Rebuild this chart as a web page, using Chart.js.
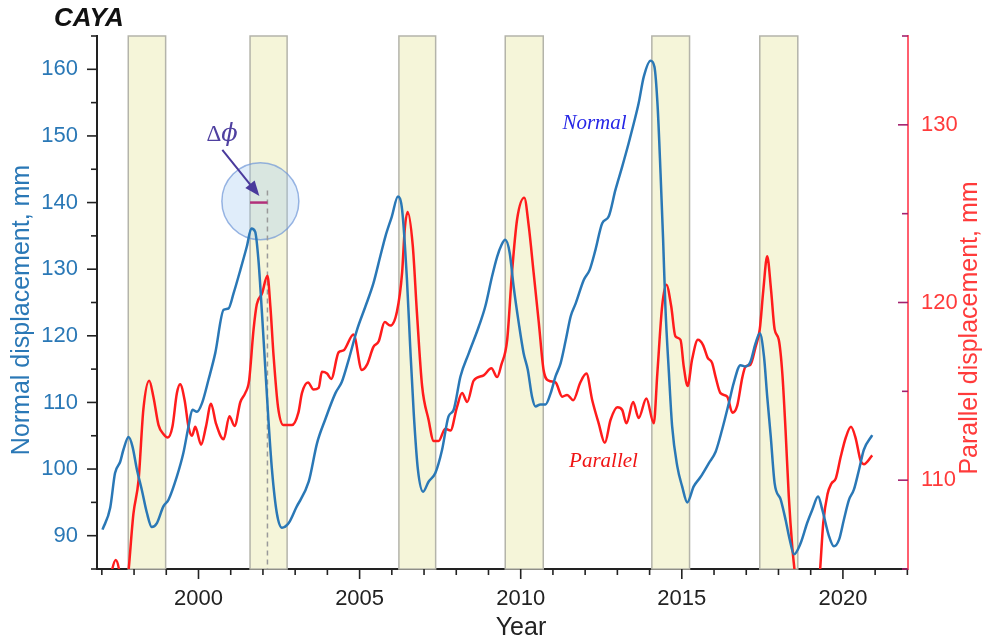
<!DOCTYPE html>
<html>
<head>
<meta charset="utf-8">
<script src="https://cdn.jsdelivr.net/npm/chart.js@4.4.1/dist/chart.umd.min.js"></script>
<style>
  body { margin: 0; background: #fff; }
  canvas { display: block; }
</style>
</head>
<body>
<canvas id="myChart" width="984" height="641"></canvas>
<script>
// Normal displacement (left axis, mm)
const normalYears = [1997.02, 1997.26, 1997.41, 1997.57, 1997.67, 1997.83, 1997.95, 1998.09, 1998.24, 1998.40,
  1998.55, 1998.71, 1998.91, 1999.07, 1999.33, 1999.53, 1999.69, 1999.81, 1999.95, 2000.11,
  2000.31, 2000.52, 2000.78, 2000.93, 2001.09, 2001.30, 2001.50, 2001.64, 2001.76, 2001.86,
  2001.97, 2002.07, 2002.17, 2002.28, 2002.43, 2002.59, 2002.80, 2003.03, 2003.42, 2003.68,
  2003.93, 2004.25, 2004.45, 2004.66, 2004.92, 2005.18, 2005.43, 2005.64, 2005.80, 2006.00,
  2006.19, 2006.32, 2006.47, 2006.57, 2006.68, 2006.81, 2006.97, 2007.14, 2007.35, 2007.56,
  2007.76, 2007.92, 2008.13, 2008.39, 2008.70, 2008.90, 2009.11, 2009.27, 2009.40, 2009.52,
  2009.66, 2009.78, 2009.94, 2010.09, 2010.22, 2010.35, 2010.46, 2010.61, 2010.77, 2010.93,
  2011.08, 2011.24, 2011.40, 2011.55, 2011.71, 2011.96, 2012.14, 2012.32, 2012.53, 2012.73,
  2012.94, 2013.15, 2013.35, 2013.51, 2013.66, 2013.82, 2014.03, 2014.15, 2014.25, 2014.34,
  2014.42, 2014.49, 2014.60, 2014.70, 2014.86, 2015.01, 2015.17, 2015.37, 2015.58, 2015.84,
  2016.05, 2016.25, 2016.46, 2016.61, 2016.82, 2016.98, 2017.13, 2017.29, 2017.42, 2017.55,
  2017.65, 2017.76, 2017.88, 2018.07, 2018.22, 2018.35, 2018.48, 2018.69, 2018.89, 2019.05,
  2019.23, 2019.36, 2019.57, 2019.72, 2019.88, 2020.03, 2020.19, 2020.34, 2020.50, 2020.65,
  2020.91];
const normalValues = [90.9, 94.2, 99.4, 101.1, 102.9, 104.8, 103.4, 99.9, 96.9, 93.4,
  91.3, 91.9, 94.4, 95.4, 98.9, 102.4, 106.4, 108.9, 108.6, 109.9,
  113.4, 117.4, 123.9, 124.1, 126.4, 129.9, 133.4, 136.1, 135.6, 131.4,
  123.4, 115.4, 107.4, 99.9, 93.4, 91.2, 91.9, 94.2, 98.1, 103.9,
  107.4, 111.4, 113.1, 116.4, 120.9, 124.4, 127.9, 131.9, 134.9, 137.9,
  140.9, 138.9, 128.4, 118.4, 108.4, 99.9, 96.6, 98.1, 99.4, 102.9,
  107.9, 108.9, 113.9, 117.4, 121.4, 124.4, 128.9, 131.9, 133.6, 134.4,
  132.4, 127.4, 121.9, 117.4, 114.9, 110.9, 109.4, 109.7, 109.7, 111.4,
  113.9, 115.9, 119.4, 122.9, 124.9, 128.4, 129.9, 132.9, 136.9, 137.9,
  141.9, 145.4, 148.9, 151.9, 154.9, 158.9, 161.3, 160.4, 154.4, 144.4,
  134.4, 124.4, 114.4, 106.4, 100.4, 97.4, 95.0, 97.4, 98.8, 100.9,
  102.6, 105.9, 109.9, 112.9, 115.6, 115.4, 116.1, 118.9, 120.4, 116.9,
  110.9, 104.9, 97.9, 95.4, 92.4, 89.4, 87.2, 88.9, 91.9, 93.9,
  95.9, 93.9, 89.9, 88.4, 89.4, 92.4, 95.4, 96.9, 99.9, 102.9,
  105.1];

// Parallel displacement (right axis, mm)
const parallelYears = [1997.20, 1997.31, 1997.43, 1997.54, 1997.62, 1997.76, 1997.83, 1997.98, 1998.14, 1998.29,
  1998.47, 1998.60, 1998.76, 1998.91, 1999.05, 1999.19, 1999.33, 1999.43, 1999.57, 1999.69,
  1999.80, 1999.90, 2000.08, 2000.23, 2000.39, 2000.54, 2000.78, 2000.96, 2001.12, 2001.30,
  2001.45, 2001.57, 2001.71, 2001.81, 2001.97, 2002.14, 2002.23, 2002.33, 2002.47, 2002.64,
  2002.90, 2003.10, 2003.21, 2003.40, 2003.57, 2003.73, 2003.83, 2003.99, 2004.12, 2004.35,
  2004.50, 2004.81, 2005.07, 2005.23, 2005.43, 2005.59, 2005.78, 2005.95, 2006.16, 2006.32,
  2006.40, 2006.49, 2006.65, 2006.78, 2006.94, 2007.14, 2007.30, 2007.45, 2007.66, 2007.82,
  2008.02, 2008.18, 2008.34, 2008.54, 2008.85, 2009.09, 2009.27, 2009.40, 2009.58, 2009.73,
  2009.89, 2010.11, 2010.25, 2010.40, 2010.56, 2010.71, 2010.87, 2011.08, 2011.29, 2011.44,
  2011.63, 2011.85, 2012.04, 2012.22, 2012.42, 2012.61, 2012.79, 2013.00, 2013.15, 2013.28,
  2013.49, 2013.66, 2013.90, 2014.13, 2014.24, 2014.39, 2014.52, 2014.67, 2014.80, 2014.96,
  2015.06, 2015.18, 2015.32, 2015.50, 2015.66, 2015.80, 2015.94, 2016.05, 2016.20, 2016.41,
  2016.57, 2016.72, 2016.88, 2016.98, 2017.13, 2017.29, 2017.42, 2017.53, 2017.65, 2017.77,
  2017.88, 2018.01, 2018.12, 2018.22, 2018.32, 2018.43, 2018.50, 2018.65, 2019.00, 2019.18,
  2019.29, 2019.39, 2019.52, 2019.64, 2019.78, 2019.93, 2020.09, 2020.25, 2020.39, 2020.55,
  2020.65, 2020.91];
const parallelValues = [103.8, 104.9, 105.5, 104.9, 103.6, 103.6, 104.9, 108.1, 110.0, 114.0,
  115.6, 114.7, 113.1, 112.6, 112.4, 113.0, 114.9, 115.4, 114.5, 113.0,
  112.5, 113.0, 112.0, 113.0, 114.3, 113.2, 112.3, 113.6, 113.05, 114.4,
  114.9, 115.6, 118.5, 119.9, 120.5, 121.5, 119.8, 117.0, 114.1, 113.1,
  113.1, 113.8, 114.9, 115.5, 115.1, 115.2, 116.1, 116.0, 115.7, 117.2,
  117.3, 118.2, 116.2, 116.5, 117.5, 117.8, 118.9, 118.7, 119.5, 121.7,
  124.1, 125.1, 123.2, 119.4, 115.3, 113.4, 112.2, 112.2, 112.9, 112.8,
  114.1, 114.9, 114.4, 115.6, 115.9, 116.3, 115.8, 116.5, 117.9, 121.7,
  124.7, 125.9, 124.3, 121.7, 118.9, 116.2, 115.6, 115.5, 114.7, 114.8,
  114.5, 115.5, 116.0, 114.5, 113.2, 112.1, 113.4, 114.1, 113.95, 113.2,
  114.4, 113.5, 114.6, 113.2, 116.0, 119.8, 121.0, 119.8, 118.1, 117.9,
  116.4, 115.3, 116.8, 117.9, 117.6, 116.9, 116.6, 115.8, 114.9, 114.7,
  113.8, 114.2, 115.8, 116.4, 116.5, 117.5, 118.5, 120.7, 122.6, 120.7,
  118.5, 117.9, 116.0, 112.8, 109.1, 106.2, 104.9, 102.0, 100.5, 102.5,
  104.9, 107.6, 109.2, 109.8, 110.1, 111.3, 112.4, 113.0, 112.4, 111.1,
  110.9, 111.4];

// shaded periods (years)
const bandStarts = [1997.82, 2001.60, 2006.22, 2009.52, 2014.07, 2017.42];
const bandEnds   = [1998.98, 2002.75, 2007.36, 2010.70, 2015.24, 2018.60];

const xTickLabels = [2000, 2005, 2010, 2015, 2020];
const leftTickLabels = [90, 100, 110, 120, 130, 140, 150, 160];
const rightTickLabels = [110, 120, 130];

const SANS = '"Liberation Sans", Arial, sans-serif';
const SERIF = '"Liberation Serif", "Times New Roman", serif';
const BLUE = '#2a78b6';
const RED = '#ff1c1c';

const toPoints = (xs, ys) => xs.map((x, i) => ({ x: x, y: ys[i] }));

const decor = {
    id: 'decor',
    beforeDatasetsDraw(chart) {
        const ctx = chart.ctx, a = chart.chartArea;
        const x = chart.scales.x, y = chart.scales.y;
        ctx.save();
        // yellow periods
        for (let i = 0; i < bandStarts.length; i++) {
            const x1 = x.getPixelForValue(bandStarts[i]);
            const x2 = x.getPixelForValue(bandEnds[i]);
            ctx.fillStyle = '#f5f5d9';
            ctx.fillRect(x1, a.top, x2 - x1, a.bottom - a.top);
            ctx.strokeStyle = '#b4b4aa';
            ctx.lineWidth = 1.5;
            ctx.strokeRect(x1, a.top, x2 - x1, a.bottom - a.top);
        }
        // circle
        ctx.beginPath();
        ctx.arc(x.getPixelForValue(2001.92), y.getPixelForValue(140.2), 38.5, 0, Math.PI * 2);
        ctx.fillStyle = 'rgba(160,200,240,0.32)';
        ctx.fill();
        ctx.strokeStyle = 'rgba(110,150,215,0.7)';
        ctx.lineWidth = 1.5;
        ctx.stroke();
        // dashed line
        ctx.beginPath();
        ctx.setLineDash([5, 4]);
        ctx.strokeStyle = '#9a9a9a';
        ctx.lineWidth = 1.5;
        ctx.moveTo(x.getPixelForValue(2002.14), y.getPixelForValue(141.8));
        ctx.lineTo(x.getPixelForValue(2002.14), a.bottom);
        ctx.stroke();
        ctx.restore();
    },
    afterDatasetsDraw(chart) {
        const ctx = chart.ctx;
        const x = chart.scales.x, y = chart.scales.y;
        ctx.save();
        // delta phi segment
        ctx.beginPath();
        ctx.strokeStyle = '#b2307a';
        ctx.lineWidth = 2.5;
        ctx.moveTo(x.getPixelForValue(2001.60), y.getPixelForValue(140.0));
        ctx.lineTo(x.getPixelForValue(2002.14), y.getPixelForValue(140.0));
        ctx.stroke();
        // arrow
        const ax1 = x.getPixelForValue(2000.74), ay1 = y.getPixelForValue(147.9);
        const ax2 = x.getPixelForValue(2001.89), ay2 = y.getPixelForValue(141.0);
        const ang = Math.atan2(ay2 - ay1, ax2 - ax1);
        ctx.strokeStyle = '#4a3a9c';
        ctx.fillStyle = '#4a3a9c';
        ctx.lineWidth = 2;
        ctx.beginPath();
        ctx.moveTo(ax1, ay1);
        ctx.lineTo(ax2 - 12 * Math.cos(ang), ay2 - 12 * Math.sin(ang));
        ctx.stroke();
        ctx.beginPath();
        ctx.moveTo(ax2, ay2);
        ctx.lineTo(ax2 - 15 * Math.cos(ang) + 6 * Math.sin(ang), ay2 - 15 * Math.sin(ang) - 6 * Math.cos(ang));
        ctx.lineTo(ax2 - 15 * Math.cos(ang) - 6 * Math.sin(ang), ay2 - 15 * Math.sin(ang) + 6 * Math.cos(ang));
        ctx.closePath();
        ctx.fill();
        // delta phi label: upright delta, italic phi
        const lx = x.getPixelForValue(2000.74), ly = y.getPixelForValue(150.2);
        ctx.fillStyle = '#4f40a0';
        ctx.textBaseline = 'middle';
        ctx.textAlign = 'right';
        ctx.font = '23px ' + SERIF;
        ctx.fillText('\u0394', lx - 1, ly);
        ctx.textAlign = 'left';
        ctx.font = 'italic 24px "DejaVu Serif", serif';
        ctx.fillText('\u03D5', lx - 1, ly);
        // series names
        ctx.textAlign = 'center';
        ctx.font = 'italic 21px ' + SERIF;
        ctx.fillStyle = '#2626e6';
        ctx.fillText('Normal', x.getPixelForValue(2012.29), y.getPixelForValue(151.8));
        ctx.fillStyle = '#f01414';
        ctx.fillText('Parallel', x.getPixelForValue(2012.57), y.getPixelForValue(101.1));
        ctx.restore();
    },
    afterDraw(chart) {
        const ctx = chart.ctx, a = chart.chartArea;
        const sx = chart.scales.x, sy = chart.scales.y, sy1 = chart.scales.y1;
        ctx.save();
        ctx.lineWidth = 1.6;
        // tick marks, long for labelled values, short otherwise
        ctx.strokeStyle = '#222';
        sx.ticks.forEach(t => {
            const px = sx.getPixelForValue(t.value);
            const len = xTickLabels.includes(t.value) ? 10 : 6;
            ctx.beginPath(); ctx.moveTo(px, a.bottom); ctx.lineTo(px, a.bottom + len); ctx.stroke();
        });
        sy.ticks.forEach(t => {
            const py = sy.getPixelForValue(t.value);
            const len = leftTickLabels.includes(t.value) ? 10 : 6;
            ctx.beginPath(); ctx.moveTo(a.left, py); ctx.lineTo(a.left - len, py); ctx.stroke();
        });
        ctx.strokeStyle = '#a3226e';
        sy1.ticks.forEach(t => {
            const py = sy1.getPixelForValue(t.value);
            const len = rightTickLabels.includes(t.value) ? 10 : 6;
            ctx.beginPath(); ctx.moveTo(a.right, py); ctx.lineTo(a.right - len, py); ctx.stroke();
        });
        // axis titles
        ctx.textAlign = 'center';
        ctx.textBaseline = 'middle';
        ctx.font = '25px ' + SANS;
        ctx.fillStyle = '#222';
        ctx.fillText('Year', 521, 628);
        ctx.save();
        ctx.translate(22, 310);
        ctx.rotate(-Math.PI / 2);
        ctx.fillStyle = BLUE;
        ctx.fillText('Normal displacement, mm', 0, 0);
        ctx.restore();
        ctx.save();
        ctx.translate(970, 328);
        ctx.rotate(-Math.PI / 2);
        ctx.fillStyle = '#ff3b3b';
        ctx.fillText('Parallel displacement, mm', 0, 0);
        ctx.restore();
        // station name
        ctx.textAlign = 'left';
        ctx.font = 'italic bold 26px ' + SANS;
        ctx.fillStyle = '#111';
        ctx.fillText('CAYA', 54, 19);
        ctx.restore();
    }
};

const data = {
    datasets: [
        {
            label: 'Normal',
            data: toPoints(normalYears, normalValues),
            borderColor: BLUE,
            borderWidth: 2.5,
            pointRadius: 0,
            cubicInterpolationMode: 'monotone',
            yAxisID: 'y'
        },
        {
            label: 'Parallel',
            data: toPoints(parallelYears, parallelValues),
            borderColor: RED,
            borderWidth: 2.5,
            pointRadius: 0,
            cubicInterpolationMode: 'monotone',
            yAxisID: 'y1'
        }
    ]
};

const options = {
    responsive: false,
    animation: false,
    devicePixelRatio: 1,
    layout: { padding: { top: 36, left: 0, right: 0, bottom: 0 } },
    plugins: {
        legend: { display: false },
        tooltip: { enabled: false }
    },
    scales: {
        x: {
            type: 'linear',
            min: 1996.85,
            max: 2022.02,
            afterFit: s => { s.height = 72; },
            border: { color: '#222', width: 2 },
            grid: { drawOnChartArea: false, tickLength: 10, tickColor: 'rgba(0,0,0,0)' },
            ticks: {
                stepSize: 1,
                includeBounds: false,
                autoSkip: false,
                maxRotation: 0,
                padding: 7,
                color: '#222',
                font: { family: SANS, size: 22 },
                callback: v => xTickLabels.includes(v) ? String(v) : ''
            }
        },
        y: {
            position: 'left',
            min: 85,
            max: 165,
            afterFit: s => { s.width = 97; },
            border: { color: '#222', width: 2 },
            grid: { drawOnChartArea: false, tickLength: 10, tickColor: 'rgba(0,0,0,0)' },
            ticks: {
                stepSize: 5,
                autoSkip: false,
                padding: 9,
                color: BLUE,
                font: { family: SANS, size: 22 },
                callback: v => leftTickLabels.includes(v) ? String(v) : ''
            }
        },
        y1: {
            position: 'right',
            min: 105,
            max: 135,
            afterFit: s => { s.width = 76; },
            border: { color: '#ff5f6f', width: 2 },
            grid: { drawOnChartArea: false, drawTicks: false },
            ticks: {
                stepSize: 5,
                autoSkip: false,
                padding: 13,
                color: '#ff3b3b',
                font: { family: SANS, size: 22 },
                callback: v => rightTickLabels.includes(v) ? String(v) : ''
            }
        }
    }
};

const myChart = new Chart(document.getElementById('myChart'), {
    type: 'line',
    data: data,
    options: options,
    plugins: [decor]
});
</script>
</body>
</html>
